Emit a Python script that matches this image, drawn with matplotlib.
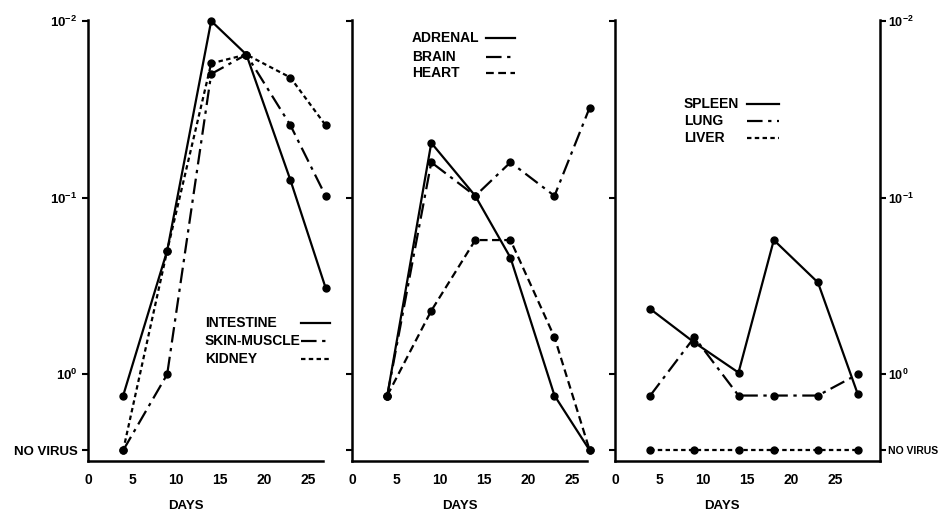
import matplotlib
matplotlib.use("Agg")
import matplotlib.pyplot as plt

plt.rcParams['font.family'] = ['Liberation Sans', 'DejaVu Sans']
plt.rcParams['font.weight'] = 'bold'
plt.rcParams['mathtext.fontset'] = 'custom'
plt.rcParams['mathtext.rm'] = 'Liberation Sans:bold'
plt.rcParams['mathtext.it'] = 'Liberation Sans:bold'

# y values in log units: 0 -> 10^0, 1 -> 10^-1, 2 -> 10^-2
NO_VIRUS = -0.43
y_ticks = [2, 1, 0, NO_VIRUS]
y_labels = ['10$^{-2}$', '10$^{-1}$', '10$^{0}$', 'NO VIRUS']
x_ticks = [0, 5, 10, 15, 20, 25]

days = [4, 9, 14, 18, 23, 27]
days3 = [4, 9, 14, 18, 23, 27.5]

intestine = [-0.12, 0.70, 2.0, 1.81, 1.10, 0.49]
skin_muscle = [NO_VIRUS, 0.0, 1.70, 1.81, 1.41, 1.01]
kidney = [NO_VIRUS, 0.70, 1.76, 1.81, 1.68, 1.41]

adrenal = [-0.12, 1.31, 1.01, 0.66, -0.12, NO_VIRUS]
brain = [-0.12, 1.20, 1.01, 1.20, 1.01, 1.51]
heart = [-0.12, 0.36, 0.76, 0.76, 0.21, NO_VIRUS]

spleen = [0.37, 0.18, 0.01, 0.76, 0.52, -0.11]
lung = [-0.12, 0.21, -0.12, -0.12, -0.12, 0.0]
liver = [NO_VIRUS] * 6

solid = '-'
dashdot = (0, (7, 2.5, 1.5, 2.5))
dashed = (0, (3.5, 2))
dotted = (0, (2, 1.5))

fig = plt.figure(figsize=(9.49, 5.15), dpi=100)
bottom, height = 0.105, 0.856
ax1 = fig.add_axes([0.0927, bottom, 0.2476, height])
ax2 = fig.add_axes([0.371, bottom, 0.2476, height])
ax3 = fig.add_axes([0.648, bottom, 0.279, height])


def style(ax, xmax):
    ax.set_xlim(0, xmax)
    ax.set_ylim(-0.49, 2.005)
    ax.spines['top'].set_visible(False)
    ax.spines['right'].set_visible(False)
    for s in ax.spines.values():
        s.set_linewidth(1.8)
    ax.set_xticks(x_ticks)
    ax.set_xticklabels([str(t) for t in x_ticks], fontsize=10)
    ax.tick_params(axis='x', length=0, pad=9)
    ax.set_yticks(y_ticks)
    ax.tick_params(axis='y', length=4, width=1.5, direction='out')
    ax.set_xlabel('DAYS', fontsize=9.5, fontweight='bold')


def series(ax, x, y, ls):
    ax.plot(x, y, color='black', linestyle=ls, linewidth=1.6,
            marker='o', markersize=5, clip_on=False)


def legend(ax, labels, styles, tx, hx0, hx1, ys):
    for lab, ls, yy in zip(labels, styles, ys):
        ax.text(tx, yy, lab, transform=ax.transAxes, fontsize=10,
                fontweight='bold', va='center', ha='left')
        ax.plot([hx0, hx1], [yy, yy], transform=ax.transAxes, color='black',
                linestyle=ls, linewidth=1.6, clip_on=False)


# panel 1
style(ax1, 26.7)
ax1.set_yticklabels(y_labels, fontsize=9.5)
series(ax1, days, intestine, solid)
series(ax1, days, skin_muscle, dashdot)
series(ax1, days, kidney, dotted)
legend(ax1, ['INTESTINE', 'SKIN-MUSCLE', 'KIDNEY'], [solid, dashdot, dotted],
       0.498, 0.905, 1.03, [0.313, 0.272, 0.231])
ax1.xaxis.set_label_coords(0.417, -0.088)

# panel 2
style(ax2, 26.7)
ax2.set_yticklabels([])
series(ax2, days, adrenal, solid)
series(ax2, days, brain, dashdot)
series(ax2, days, heart, dashed)
legend(ax2, ['ADRENAL', 'BRAIN', 'HEART'], [solid, dashdot, dashed],
       0.255, 0.57, 0.694, [0.959, 0.916, 0.880])
ax2.xaxis.set_label_coords(0.46, -0.088)

# panel 3
style(ax3, 30)
ax3.spines['right'].set_visible(True)
ax3.set_yticklabels([])
series(ax3, days3, spleen, solid)
series(ax3, days3, lung, dashdot)
series(ax3, days3, liver, dotted)
legend(ax3, ['SPLEEN', 'LUNG', 'LIVER'], [solid, dashdot, dotted],
       0.26, 0.50, 0.62, [0.81, 0.771, 0.732])
ax3.xaxis.set_label_coords(0.404, -0.088)

axr = ax3.twinx()
axr.set_ylim(ax3.get_ylim())
axr.set_yticks(y_ticks)
axr.set_yticklabels(y_labels, fontsize=9)
axr.get_yticklabels()[-1].set_fontsize(7.5)
axr.tick_params(axis='y', length=4, width=1.5, direction='out', pad=2)
for s in axr.spines.values():
    s.set_visible(False)

fig.savefig('out.png', dpi=100)
